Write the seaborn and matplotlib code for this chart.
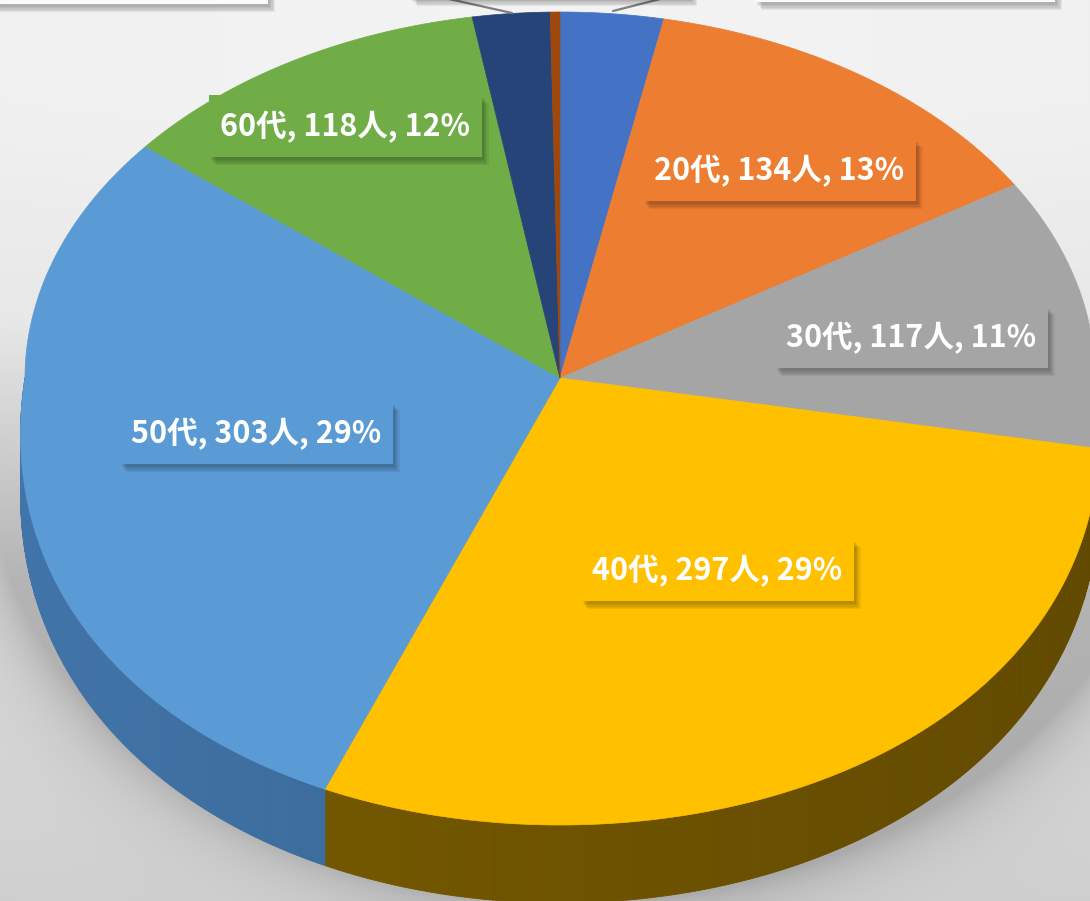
import numpy as np
import matplotlib
matplotlib.use("Agg")
import matplotlib.pyplot as plt
import seaborn as sns
from matplotlib.patches import Polygon, Rectangle
from matplotlib.collections import PolyCollection
from matplotlib.colors import to_rgb

# ---------------- data ----------------
categories = ["10代", "20代", "30代", "40代", "50代", "60代", "70代", "80代"]
counts = [32, 134, 117, 297, 303, 118, 24, 3]
percent_labels = ["3%", "13%", "11%", "29%", "29%", "12%", "2%", "0%"]
top_colors = ["#4472C4", "#ED7D31", "#A5A5A5", "#FFC000",
              "#5B9BD5", "#70AD47", "#264478", "#9E480E"]
side_colors = ["#2E4F8A", "#A85520", "#5E5E5E", "#6E5300",
               "#3A6897", "#4B7A2E", "#182C50", "#6A300A"]

# ---------------- style ----------------
sns.set_theme(style="white")
plt.rcParams["font.family"] = ["Noto Sans CJK JP", "DejaVu Sans"]

W, H = 1090, 901
fig = plt.figure(figsize=(W / 100, H / 100), dpi=100)
ax = fig.add_axes([0, 0, 1, 1])
ax.set_xlim(0, W)
ax.set_ylim(H, 0)
ax.axis("off")

# geometry of the tilted pie (pixel space)
CX, CY, A, BT, BB, K = 560, 378, 535, 366, 447, 0.13


def rim(phi):
    r = np.radians(phi)
    c, s = np.cos(r), np.sin(r)
    x = CX + A * c * (1 + K * np.clip(-s, 0, None))
    y = CY - np.where(s > 0, BT, BB) * s
    return x, y


def depth(phi):
    s = np.sin(np.radians(phi))
    return 58 + 20 * np.clip(-s, 0, None)


# ---------------- background ----------------
yy, xx = np.mgrid[0:H, 0:W]
bg = 0.955 - 0.13 * np.clip((yy - 100) / (H - 100), 0, 1) \
    - 0.02 * np.abs(xx - W / 2) / W
rx = (xx - CX - 15) / (A * 1.10)
ry = (yy - CY - 75) / (BB * 1.0)
rr = np.sqrt(rx ** 2 + ry ** 2)
shadow = 0.16 * np.exp(-np.clip(rr - 1.0, 0, None) / 0.06)
shadow *= np.clip((yy - CY + 60) / 260, 0, 1)
bg = np.clip(bg - shadow, 0, 1)
ax.imshow(np.dstack([bg, bg, bg]), extent=[0, W, H, 0], zorder=0, aspect="auto")

# ---------------- pie angles via matplotlib pie ----------------
helper = fig.add_axes([0, 0, 0.01, 0.01])
wedges, _ = helper.pie(counts, startangle=90, counterclock=False)
angles = [(w.theta1, w.theta2) for w in wedges]
helper.remove()

# ---------------- side walls ----------------
for (t1, t2), sc in zip(angles, side_colors):
    n = max(3, int((t2 - t1) * 3))
    ph = np.linspace(t1, t2, n)
    quads, cols = [], []
    base = np.array(to_rgb(sc))
    for p0, p1 in zip(ph[:-1], ph[1:]):
        pm = 0.5 * (p0 + p1)
        if np.sin(np.radians(pm)) >= 0:
            continue
        x0, y0 = rim(p0)
        x1, y1 = rim(p1)
        d0, d1 = depth(p0), depth(p1)
        quads.append([(x0, y0), (x1, y1), (x1, y1 + d1), (x0, y0 + d0)])
        shade = 1.0 - 0.12 * np.cos(np.radians(pm))
        cols.append(np.clip(base * shade, 0, 1))
    if quads:
        ax.add_collection(PolyCollection(quads, facecolors=cols,
                                         edgecolors=cols, linewidths=0.6,
                                         zorder=2))

# ---------------- top faces ----------------
for (t1, t2), tc in zip(angles, top_colors):
    n = max(3, int((t2 - t1) * 3))
    ph = np.linspace(t1, t2, n)
    x, y = rim(ph)
    pts = [(CX, CY)] + list(zip(x, y))
    ax.add_patch(Polygon(pts, closed=True, facecolor=tc, edgecolor=tc,
                         linewidth=0.5, zorder=3))

# ---------------- data labels ----------------
label_pos = {"20代": (779, 170), "30代": (911, 337), "40代": (717, 570),
             "50代": (256, 433), "60代": (345, 126)}
BW, BH = 273, 62


def shadow_box(x0, y0, w, h, fc, z=5):
    for i in range(5):
        off = 2 + i * 1.3
        ax.add_patch(Rectangle((x0 + off, y0 + off + 1), w, h, facecolor="black",
                               edgecolor="none", alpha=0.06, zorder=z))
    ax.add_patch(Rectangle((x0, y0), w, h, facecolor=fc, edgecolor="none",
                           zorder=z + 0.5))


for cat, cnt, pct, tc in zip(categories, counts, percent_labels, top_colors):
    if cat not in label_pos:
        continue
    cx, cy = label_pos[cat]
    shadow_box(cx - BW / 2, cy - BH / 2, BW, BH, tc)
    ax.text(cx, cy + 1, f"{cat}, {cnt}人, {pct}", color="white", fontsize=22,
            fontweight="bold", ha="center", va="center", zorder=7)

# label boxes of the small slices (cut off at the top edge)
ax.plot([440, 512], [-3, 13], color="#7F7F7F", lw=1.6, zorder=4)
ax.plot([668, 613], [-3, 11], color="#7F7F7F", lw=1.6, zorder=4)
shadow_box(410, -70, 280, 68, "#F7F7F7")
shadow_box(-10, -70, 278, 74, "#FAFAFA")
shadow_box(755, -70, 300, 72, "#FAFAFA")

fig.savefig("out.png", dpi=100)
